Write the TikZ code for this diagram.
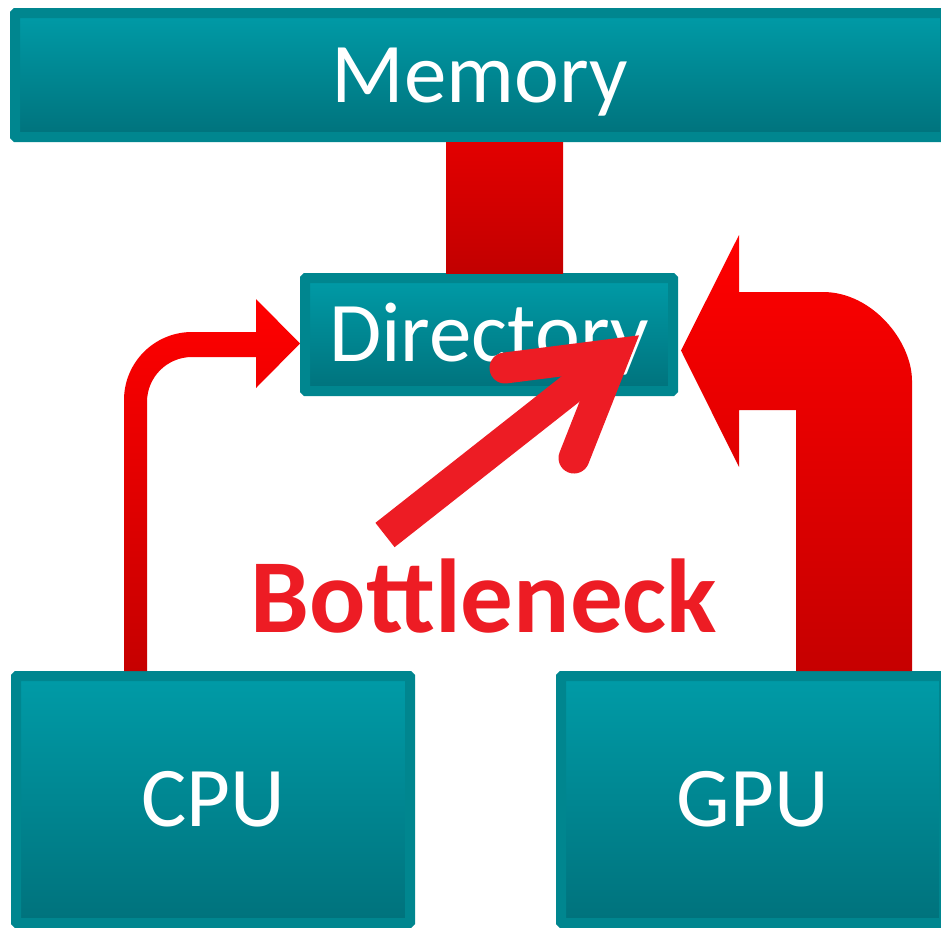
\documentclass[tikz,border=0pt]{standalone}
\usepackage{fontspec}
\setmainfont{Carlito}
\usepackage{xcolor}
\usetikzlibrary{calc,shadows}
\definecolor{boxedge}{HTML}{00868F}
\definecolor{boxtop}{HTML}{009BA7}
\definecolor{boxbot}{HTML}{00727C}
\definecolor{linktop}{HTML}{FF0000}
\definecolor{linkbot}{HTML}{C60000}
\definecolor{bartop}{HTML}{E20000}
\definecolor{barbot}{HTML}{C20000}
\definecolor{neckred}{HTML}{ED1C24}

\begin{document}
\begin{tikzpicture}[x=1pt, y=-1pt, unit/.style = {rectangle, shade, top color=boxtop, bottom color=boxbot, draw=boxedge, line width=10pt, rounded corners=1pt, text=white, font=\fontsize{85}{90}\selectfont, text height=54pt, text depth=0pt, drop shadow={shadow xshift=2pt, shadow yshift=-3pt, opacity=0.3}}, link/.style = {shade, top color=linktop, bottom color=linkbot}]
        \useasboundingbox (0,0) rectangle (941,927);

        \draw (480,75) node[unit, minimum width=930pt, minimum height=124pt] (mem) {Memory};
        \draw (489,334.5) node[unit, minimum width=368pt, minimum height=113pt] (dir) {Directory};
        \draw (213,799.5) node[unit, minimum width=394pt, minimum height=247pt] (cpu) {CPU};
        \draw (752.5,799.5) node[unit, minimum width=383pt, minimum height=247pt] (gpu) {GPU};

        % memory <-> directory
        \shade[top color=bartop, bottom color=barbot] (446,0 |- mem.south) rectangle (563,0 |- dir.north);

        % cpu -> directory
        \shade[link] (124,0 |- cpu.north) -- (124,400) .. controls (124,362.4) and (154.4,332) .. (192,332) -- (256,332) -- (256,299) -- ($(dir.west)+(0,9)$) -- (256,388) -- (256,357) -- (192,357) .. controls (167.1,357) and (147,377.1) .. (147,402) -- (147,0 |- cpu.north) -- cycle;

        % gpu -> directory
        \shade[link] ($(dir.east)+(3,16)$) -- (739,235) -- (739,292) -- (823,292) .. controls (872.2,292) and (912,341.2) .. (912,381) -- (912,0 |- gpu.north) -- (796,0 |- gpu.north) -- (796,410) -- (739,410) -- (739,467) -- cycle;

        \draw (484,632) node[anchor=base, text=neckred, font=\bfseries\fontsize{105}{110}\selectfont] (neck) {Bottleneck};
        \coordinate (necktail) at (385,535);
        \coordinate (necktip) at (615,354);
        \draw[neckred, line width=31pt] (necktail) -- (necktip);
        \draw[neckred, line width=31pt, line cap=round] (505,368) -- (necktip) -- (574,458);
      \end{tikzpicture}
\end{document}
